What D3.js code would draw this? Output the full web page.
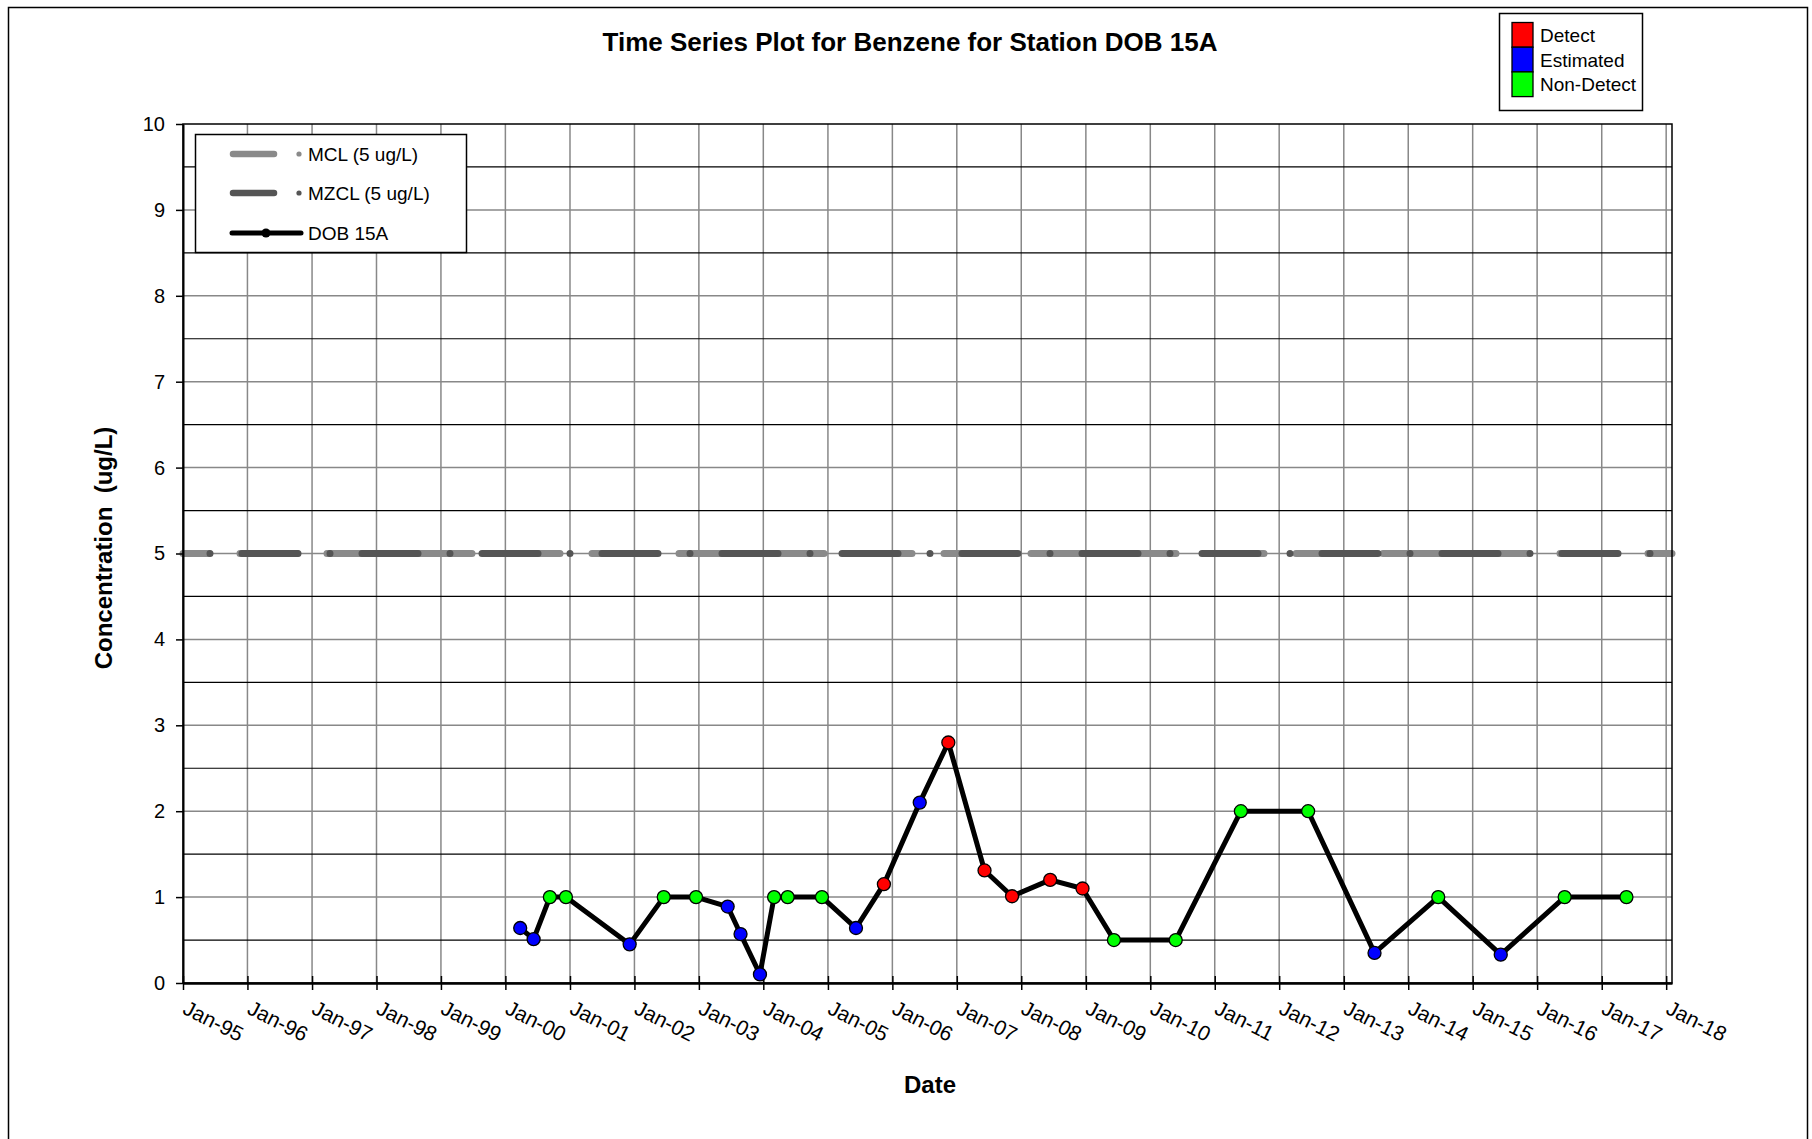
<!DOCTYPE html>
<html>
<head>
<meta charset="utf-8">
<script src="https://cdn.jsdelivr.net/npm/d3@7"></script>
<style>
  body { margin: 0; background: #fff; }
  svg { display: block; font-family: "Liberation Sans", Arial, sans-serif; }
</style>
</head>
<body>
<svg></svg>
<script>
const width = 1812;
const height = 1139;

// Benzene samples at DOB 15A
const sampleDates = [
  "2000-03-25", "2000-06-09", "2000-09-09", "2000-12-09", "2001-12-05",
  "2002-06-16", "2002-12-16", "2003-06-13", "2003-08-25", "2003-12-13",
  "2004-03-02", "2004-05-18", "2004-11-28", "2005-06-09", "2005-11-14",
  "2006-06-05", "2006-11-14", "2007-06-07", "2007-11-10", "2008-06-13",
  "2008-12-13", "2009-06-09", "2010-05-25", "2011-05-29", "2012-06-13",
  "2013-06-24", "2014-06-20", "2015-06-09", "2016-06-05", "2017-05-21",
];
const sampleValues = [
  0.64, 0.51, 1, 1, 0.45,
  1, 1, 0.89, 0.57, 0.1,
  1, 1, 1, 0.64, 1.15,
  2.1, 2.8, 1.31, 1.01, 1.2,
  1.1, 0.5, 0.5, 2, 2,
  0.35, 1, 0.33, 1, 1,
];
const sampleFlags = [
  "Estimated", "Estimated", "Non-Detect", "Non-Detect", "Estimated",
  "Non-Detect", "Non-Detect", "Estimated", "Estimated", "Estimated",
  "Non-Detect", "Non-Detect", "Non-Detect", "Estimated", "Detect",
  "Estimated", "Detect", "Detect", "Detect", "Detect",
  "Detect", "Non-Detect", "Non-Detect", "Non-Detect", "Non-Detect",
  "Estimated", "Non-Detect", "Estimated", "Non-Detect", "Non-Detect",
];

const flagNames = ["Detect", "Estimated", "Non-Detect"];
const flagColors = ["#ff0000", "#0000ff", "#00ff00"];

const limitNames = ["MCL (5 ug/L)", "MZCL (5 ug/L)"];
const limitValues = [5, 5];
const limitColors = ["#8a8a8a", "#555555"];
const limitDashes = ["57,30,145,32,56,32", "56,32,0,32"];
const limitOffsets = [295, 61];

const seriesName = "DOB 15A";
const yTicks = [0, 1, 2, 3, 4, 5, 6, 7, 8, 9, 10];
const dateRange = ["1995-01-01", "2018-02-03"];

const parse = d3.utcParse("%Y-%m-%d");
const font = "Liberation Sans, Arial, sans-serif";

const svg = d3.select("svg").attr("width", width).attr("height", height);
const g = svg.append("g");

const x = d3.scaleUtc().domain(dateRange.map(parse)).range([183, 1672]);
const y = d3.scaleLinear().domain([0, 10]).range([983, 124]);
const years = x.ticks(d3.utcYear.every(1));

// outer frame
svg.append("rect")
  .attr("x", 8.5).attr("y", 7.5)
  .attr("width", 1799).attr("height", 1150)
  .attr("fill", "none").attr("stroke", "#000").attr("stroke-width", 1.5);

svg.append("text")
  .attr("x", 910).attr("y", 51)
  .attr("text-anchor", "middle")
  .attr("font-size", 26).attr("font-weight", "bold")
  .text("Time Series Plot for Benzene for Station DOB 15A");

// grid
g.selectAll("line.vgrid")
  .data(years.slice(1))
  .enter()
  .append("line")
  .attr("class", "vgrid")
  .attr("x1", (d) => x(d)).attr("x2", (d) => x(d))
  .attr("y1", y(0)).attr("y2", y(10))
  .attr("stroke", "#888").attr("stroke-width", 1.5);

g.selectAll("line.hgrid")
  .data(yTicks.slice(1, -1))
  .enter()
  .append("line")
  .attr("class", "hgrid")
  .attr("x1", x.range()[0]).attr("x2", x.range()[1])
  .attr("y1", (d) => y(d)).attr("y2", (d) => y(d))
  .attr("stroke", "#888").attr("stroke-width", 1.5);

g.selectAll("line.hminor")
  .data(yTicks.slice(0, -1).map((d) => d + 0.5))
  .enter()
  .append("line")
  .attr("class", "hminor")
  .attr("x1", x.range()[0]).attr("x2", x.range()[1])
  .attr("y1", (d) => y(d)).attr("y2", (d) => y(d))
  .attr("stroke", "#000").attr("stroke-width", 1.2);

// MCL / MZCL
const line = d3.line().x((d) => x(d[0])).y((d) => y(d[1]));
limitValues.forEach((v, i) => {
  g.append("path")
    .attr("d", line(x.domain().map((t) => [t, v])))
    .attr("fill", "none")
    .attr("stroke", limitColors[i])
    .attr("stroke-width", 7)
    .attr("stroke-linecap", "round")
    .attr("stroke-dasharray", limitDashes[i])
    .attr("stroke-dashoffset", limitOffsets[i]);
});

g.append("rect")
  .attr("x", 183).attr("y", 124)
  .attr("width", 1672 - 183).attr("height", 983 - 124)
  .attr("fill", "none").attr("stroke", "#000").attr("stroke-width", 1.5);

// axes
const yAxis = g.append("g")
  .attr("transform", "translate(183,0)")
  .call(d3.axisLeft(y).tickValues(yTicks).tickSize(7).tickSizeOuter(0).tickPadding(11));
yAxis.select(".domain").attr("stroke-width", 2);
yAxis.selectAll(".tick line").attr("stroke-width", 1.5);
yAxis.selectAll("text").attr("font-size", 20).attr("font-family", font);

const xAxis = g.append("g")
  .attr("transform", "translate(0,983)")
  .call(
    d3.axisBottom(x)
      .ticks(d3.utcYear.every(1))
      .tickFormat(d3.utcFormat("%b-%y"))
      .tickSizeInner(7)
      .tickSizeOuter(0)
  );
xAxis.select(".domain").attr("stroke-width", 2.5);
xAxis.selectAll(".tick line").attr("y1", -7).attr("stroke-width", 1.5);
xAxis.selectAll("text")
  .attr("x", 0).attr("y", 0).attr("dy", 0)
  .attr("transform", "translate(-2,30) rotate(27)")
  .style("text-anchor", "start")
  .attr("font-size", 21).attr("font-family", font);

svg.append("text")
  .attr("x", 930).attr("y", 1093)
  .attr("text-anchor", "middle")
  .attr("font-size", 24).attr("font-weight", "bold")
  .text("Date");

svg.append("text")
  .attr("transform", "translate(112,548) rotate(-90)")
  .attr("text-anchor", "middle")
  .attr("font-size", 24).attr("font-weight", "bold")
  .style("white-space", "pre")
  .text("Concentration  (ug/L)");

// DOB 15A series
const samples = sampleDates.map((d, i) => ({
  date: parse(d),
  value: sampleValues[i],
  flag: sampleFlags[i],
}));

g.append("path")
  .datum(samples)
  .attr("d", d3.line().x((d) => x(d.date)).y((d) => y(d.value)))
  .attr("fill", "none")
  .attr("stroke", "#000")
  .attr("stroke-width", 5)
  .attr("stroke-linejoin", "round");

const color = d3.scaleOrdinal().domain(flagNames).range(flagColors);
g.selectAll("circle.sample")
  .data(samples)
  .enter()
  .append("circle")
  .attr("class", "sample")
  .attr("cx", (d) => x(d.date))
  .attr("cy", (d) => y(d.value))
  .attr("r", 6.5)
  .attr("fill", (d) => color(d.flag))
  .attr("stroke", "#000")
  .attr("stroke-width", 1.3);

// series legend
const leg = svg.append("g");
leg.append("rect")
  .attr("x", 195.5).attr("y", 134.5)
  .attr("width", 271).attr("height", 118)
  .attr("fill", "#fff").attr("stroke", "#000").attr("stroke-width", 1.5);

limitNames.forEach((name, i) => {
  const ly = 154 + i * 39;
  leg.append("line")
    .attr("x1", 233).attr("x2", 274).attr("y1", ly).attr("y2", ly)
    .attr("stroke", limitColors[i]).attr("stroke-width", 6.5)
    .attr("stroke-linecap", "round");
  leg.append("circle")
    .attr("cx", 299).attr("cy", ly).attr("r", 2.6)
    .attr("fill", limitColors[i]);
  leg.append("text")
    .attr("x", 308).attr("y", ly + 7)
    .attr("font-size", 19)
    .text(name);
});

leg.append("line")
  .attr("x1", 232).attr("x2", 301).attr("y1", 233).attr("y2", 233)
  .attr("stroke", "#000").attr("stroke-width", 5)
  .attr("stroke-linecap", "round");
leg.append("circle")
  .attr("cx", 266).attr("cy", 233).attr("r", 4.5)
  .attr("fill", "#000");
leg.append("text")
  .attr("x", 308).attr("y", 240)
  .attr("font-size", 19)
  .text(seriesName);

// flag legend
const flagLeg = svg.append("g");
flagLeg.append("rect")
  .attr("x", 1499.5).attr("y", 13.5)
  .attr("width", 143).attr("height", 97)
  .attr("fill", "#fff").attr("stroke", "#000").attr("stroke-width", 1.5);

flagLeg.selectAll("rect.swatch")
  .data(flagNames)
  .enter()
  .append("rect")
  .attr("class", "swatch")
  .attr("x", 1512).attr("y", (d, i) => 22.5 + i * 24.7)
  .attr("width", 21).attr("height", 24.7)
  .attr("fill", (d) => color(d))
  .attr("stroke", "#000").attr("stroke-width", 1.3);

flagLeg.selectAll("text")
  .data(flagNames)
  .enter()
  .append("text")
  .attr("x", 1540).attr("y", (d, i) => 42 + i * 24.7)
  .attr("font-size", 19)
  .text((d) => d);
</script>
</body>
</html>
